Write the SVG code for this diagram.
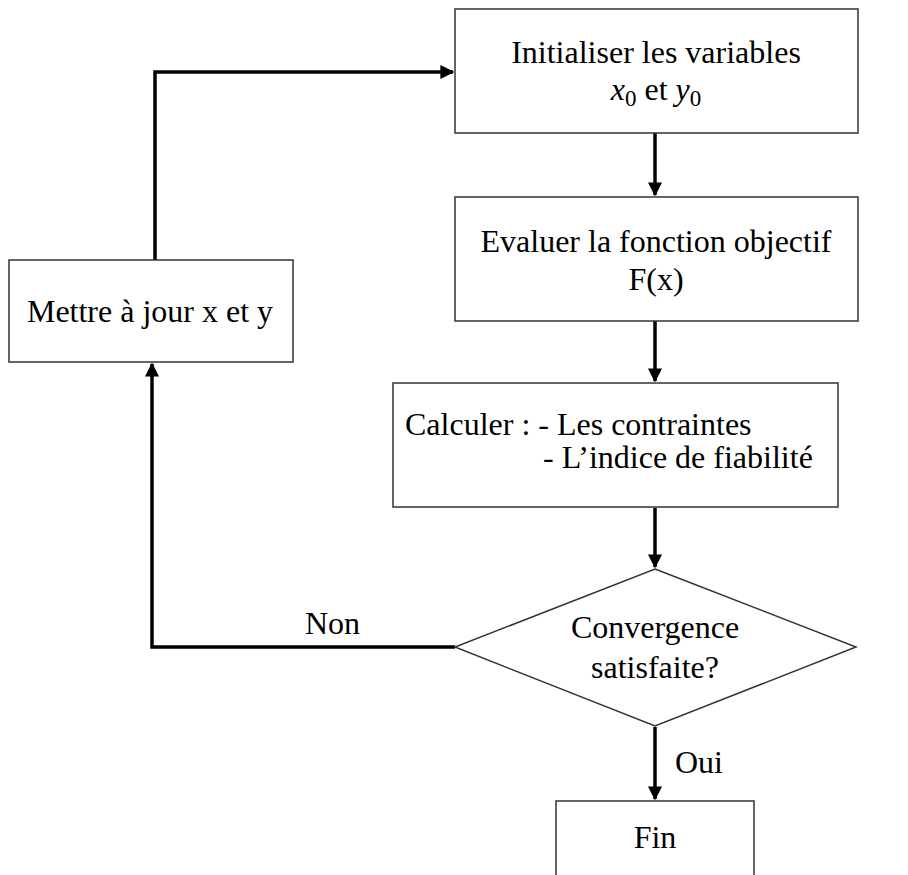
<svg xmlns="http://www.w3.org/2000/svg" width="908" height="875" viewBox="0 0 908 875">
<style>
.box{fill:#fff;stroke:#333;stroke-width:1.5}
.c{fill:none;stroke:#000;stroke-width:3.5}
text{font-family:"Liberation Serif","Times New Roman",serif;font-size:32px;fill:#000}
.m{text-anchor:middle}
.i{font-style:italic}
</style>
<defs>
<marker id="ah" viewBox="0 0 10 10" refX="9" refY="5" markerWidth="4" markerHeight="4" orient="auto" markerUnits="strokeWidth">
<path d="M0,0 L10,5 L0,10 z" fill="#000"/>
</marker>
</defs>
<rect width="908" height="875" fill="#fff"/>
<g id="connectors">
<path class="c" d="M655,133 V195" marker-end="url(#ah)"/>
<path class="c" d="M655,321 V381" marker-end="url(#ah)"/>
<path class="c" d="M655,508 V567" marker-end="url(#ah)"/>
<path class="c" d="M655,727 V799" marker-end="url(#ah)"/>
<path class="c" d="M155,261 V72 H453" marker-end="url(#ah)"/>
<path class="c" d="M455,647 H152 V364" marker-end="url(#ah)"/>
<text x="305" y="634">Non</text>
<text x="675" y="773">Oui</text>
</g>
<g id="n1">
<rect class="box" x="455" y="9" width="403" height="124"/>
<text class="m" x="656" y="63">Initialiser les variables</text>
<text class="m" x="656" y="100"><tspan class="i">x</tspan><tspan font-size="23" dy="6">0</tspan><tspan dy="-6"> et </tspan><tspan class="i">y</tspan><tspan font-size="23" dy="6">0</tspan></text>
</g>
<g id="n2">
<rect class="box" x="455" y="197" width="403" height="124"/>
<text class="m" x="656" y="252">Evaluer la fonction objectif</text>
<text class="m" x="656" y="290">F(x)</text>
</g>
<g id="n3">
<rect class="box" x="393" y="383" width="445" height="124"/>
<text x="405" y="435">Calculer : - Les contraintes</text>
<text x="543" y="468">- L’indice de fiabilité</text>
</g>
<g id="n4">
<rect class="box" x="9" y="260" width="284" height="102"/>
<text class="m" x="150" y="322" font-size="33">Mettre à jour x et y</text>
</g>
<g id="n5">
<polygon class="box" points="655,569 856,647 655,726 455,647"/>
<text class="m" x="655" y="638">Convergence</text>
<text class="m" x="655" y="678">satisfaite?</text>
</g>
<g id="n6">
<rect class="box" x="556" y="801" width="198" height="90"/>
<text class="m" x="655" y="848">Fin</text>
</g>
</svg>
